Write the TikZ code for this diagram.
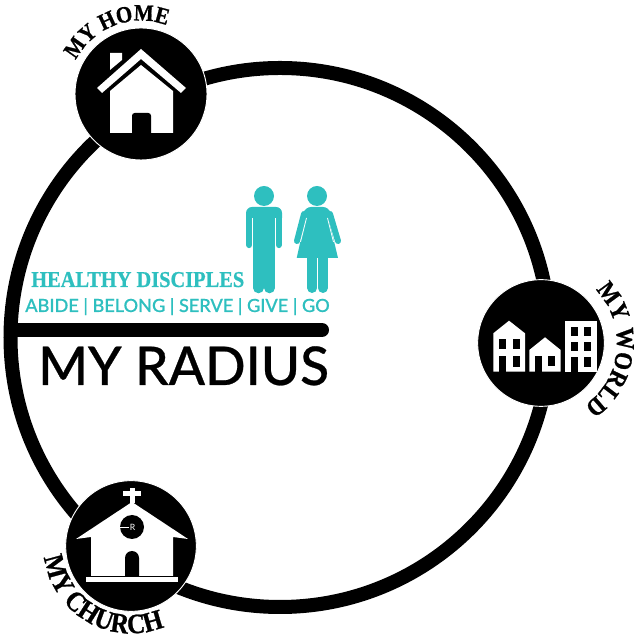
\documentclass[tikz,border=0pt]{standalone}
\usepackage{fontspec}
\usepackage{xcolor}
\usetikzlibrary{decorations.text}
\setmainfont{Lato}
\newfontfamily\latomed[FakeBold=0.5]{Lato Medium}
\newfontfamily\playfair[FakeStretch=0.9,BoldFeatures={FakeBold=0.8}]{Liberation Serif}
\newcommand{\hublabel}[1]{\playfair\bfseries\fontsize{#1}{#1}\selectfont}
\definecolor{figteal}{HTML}{2EBFBF}
\tikzset{
  ringline/.style={draw=black,circle,line width=10.5pt,minimum size=404.25pt,inner sep=0pt},
  hub/.style={fill=black,draw=white,line width=0.7pt,circle,minimum size=#1,inner sep=0pt},
  iconwhite/.style={fill=white,draw=none},
  iconblack/.style={fill=black,draw=none},
  figbody/.style={fill=figteal,draw=none},
  figlimb/.style={draw=figteal,line cap=round},
  arclabel/.style={decorate,decoration={text along path,text align={center},text={#1}}}
}
\begin{document}
\begin{tikzpicture}[x=0.75pt,y=0.75pt]
\useasboundingbox (0,0) rectangle (633,634);
\node[ringline] (ring) at (280,296.5) {};
\coordinate (radiusstart) at (12,304);
\coordinate (radiusend) at (322,304);
\draw[line width=10.5pt,line cap=round] (radiusstart) -- (radiusend);
\node[hub=99pt] (home) at (141,540) {};
\node[hub=95pt] (world) at (541,291) {};
\node[hub=98pt] (church) at (131,88) {};
% home icon
\fill[iconwhite] (110,564) -- (110,581) -- (122,581) -- (122,574) -- cycle;
\fill[iconwhite] (141,585) -- (186,546) -- (181,541) -- (141,575) -- (102,541) -- (97,546) -- cycle;
\fill[iconwhite] (141,569) -- (173,543) -- (173,501) -- (110,501) -- (110,543) -- cycle;
\fill[iconblack] (132,501) [rounded corners=2pt] -- (132,521) -- (151,521) [sharp corners] -- (151,501) -- cycle;
% world icon
\fill[iconwhite] (493.3,262.3) -- (493.3,300.7) -- (509,313.3) -- (525,300.7) -- (525,262.3) -- cycle;
\fill[iconwhite] (529.3,262.3) -- (529.3,284) -- (545,296.7) -- (560.7,284) -- (560.7,262.3) -- cycle;
\fill[iconwhite] (565.3,262.3) rectangle (596.7,313);
\foreach \wx/\wy/\wtop in {499/262.3/278,513.3/267.3/278,499/285/295,513.3/285/295,535/262.3/278,548.3/268/278,571/262.3/276.7,584.3/267.3/276.7,571/283/292.3,584.3/283/292.3,571/298/307.3,584.3/298/307.3}
  \fill[iconblack] (\wx,\wy) rectangle ++(6.5,\wtop-\wy);
% church icon
\fill[iconwhite] (129.5,131) rectangle (134.5,146);
\fill[iconwhite] (123,138) rectangle (141,143);
\fill[iconwhite] (132,132) -- (188,95) -- (173,97) -- (173,58) -- (91,58) -- (91,97) -- (76,95) -- cycle;
\fill[iconwhite] (86,52) rectangle (178,56.5);
\fill[iconblack] (125,58) -- (125,76) arc[start angle=180,end angle=0,radius=5.25pt] -- (139,58) -- cycle;
\node[fill=black,circle,minimum size=18pt,inner sep=0pt] (window) at (132,107) {};
\coordinate (windowmark) at (129,107);
\draw[white,line width=0.3pt] (window.west) -- (windowmark);
\node[text=white,font=\fontsize{6.5}{6.5}\selectfont,inner sep=0pt] (rmark) at (132.5,107) {R};
% man
\fill[figbody] (264,438) circle[radius=7.5pt];
\fill[figbody] (246,416) [rounded corners=4.5pt] -- (246,427) -- (282,427) [sharp corners] -- (282,416) -- cycle;
\fill[figbody] (253,377) rectangle (275,427);
\draw[figlimb,line width=4.7pt] (249.2,389) -- (249.2,418);
\draw[figlimb,line width=4.7pt] (278.7,389) -- (278.7,418);
\draw[white,line width=0.4pt] (252.7,386) -- (252.7,416);
\draw[white,line width=0.4pt] (275.3,386) -- (275.3,416);
\draw[figlimb,line width=7.9pt] (258.5,346) -- (258.5,380);
\draw[figlimb,line width=7.9pt] (269.5,346) -- (269.5,380);
% woman
\fill[figbody] (317,438) circle[radius=7.5pt];
\fill[figbody] (301,412) [rounded corners=4.5pt] -- (305,427) -- (329,427) [sharp corners] -- (333,412) -- cycle;
\fill[figbody] (306.5,420) -- (327.5,420) -- (338,376) -- (296.7,376) -- cycle;
\draw[figlimb,line width=4.5pt] (297,393) -- (304,420);
\draw[figlimb,line width=4.5pt] (338,393) -- (330,420);
\draw[white,line width=0.6pt] (306.5,416) -- (300.5,392);
\draw[white,line width=0.6pt] (327.5,416) -- (333.5,392);
\draw[figlimb,line width=7.5pt] (312.3,346) -- (312.3,380);
\draw[figlimb,line width=7.5pt] (322.8,346) -- (322.8,380);
% texts
\node[anchor=base west,inner sep=0pt,text=figteal,font=\hublabel{17}] (healthy) at (31,347) {HEALTHY DISCIPLES};
\node[anchor=base west,inner sep=0pt,text=figteal,font=\latomed\fontsize{13.6}{13.6}\selectfont] (abide) at (25,322) {ABIDE | BELONG | SERVE | GIVE | GO};
\node[anchor=base west,inner sep=0pt,text=black,font=\latomed\fontsize{40}{40}\selectfont] (radius) at (38,249) {MY RADIUS};
\path[arclabel={|\hublabel{17.5}|MY HOME}] ([shift={(190:55pt)}]home.center) arc[start angle=190,end angle=32,radius=55pt];
\path[arclabel={|\hublabel{19}|MY WORLD}] ([shift={(81:57pt)}]world.center) arc[start angle=81,end angle=-92,radius=57pt];
\path[arclabel={|\hublabel{21}|MY CHURCH}] ([shift={(157.5:65.5pt)}]church.center) arc[start angle=157.5,end angle=322.5,radius=65.5pt];
\end{tikzpicture}
\end{document}
